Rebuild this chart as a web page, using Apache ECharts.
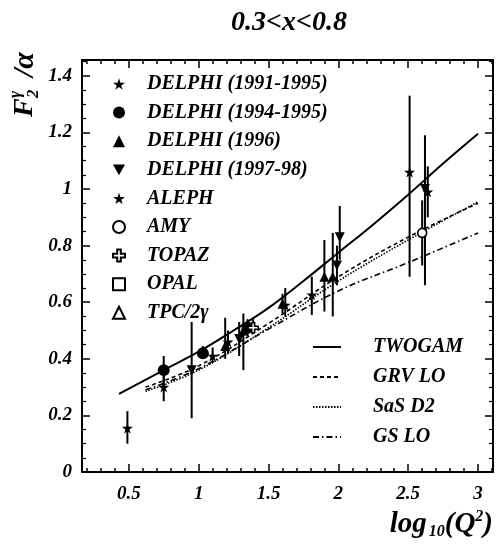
<!DOCTYPE html>
<html>
<head>
<meta charset="utf-8">
<script src="https://cdn.jsdelivr.net/npm/echarts@6/dist/echarts.min.js"></script>
<style>html,body{margin:0;padding:0;background:#fff}#c{width:497px;height:553px}</style>
</head>
<body>
<div id="c"></div>
<script>
// ---- data: [log10(Q2), F2/alpha, lower, upper] ----
const delphi9195 = [[0.49,0.155,0.10,0.215],[0.75,0.30,0.25,0.36],[1.10,0.41,0.385,0.44],[1.21,0.46,0.42,0.50],[1.62,0.59,0.55,0.65],[1.81,0.626,0.555,0.69],[2.51,1.06,0.69,1.33]];
const delphi9495 = [[0.75,0.36,0.30,0.41],[1.03,0.42,0.40,0.445],[1.35,0.51,0.48,0.54]];
const delphi96   = [[1.19,0.445,0.40,0.545],[1.32,0.50,0.36,0.56],[1.60,0.595,0.56,0.63],[1.90,0.69,0.567,0.82],[1.96,0.69,0.55,0.845]];
const delphi9798 = [[0.95,0.36,0.19,0.53],[1.29,0.47,0.41,0.53],[1.99,0.73,0.66,0.80],[2.01,0.83,0.75,0.94],[2.62,1.0,0.66,1.19]];
const aleph = [[2.64,0.99,0.90,1.08]];
const amy = [[2.60,0.845,0.73,0.96]];
const topaz = [[1.39,0.51,0.49,0.54]];
const opal = [];
const tpc = [];

const twogam = [[0.43,0.276],[0.75,0.36],[1.0,0.425],[1.25,0.50],[1.5,0.58],[1.75,0.675],[2.0,0.775],[2.25,0.875],[2.5,0.98],[2.75,1.09],[3.0,1.195]];
const grvlo  = [[0.62,0.30],[1.0,0.375],[1.5,0.525],[2.0,0.69],[2.5,0.83],[3.0,0.95]];
const sasd2  = [[0.62,0.285],[1.0,0.36],[1.5,0.51],[2.0,0.675],[2.5,0.82],[3.0,0.955]];
const gslo   = [[0.62,0.29],[1.0,0.365],[1.5,0.505],[2.0,0.64],[2.5,0.74],[3.0,0.845]];

const xMajor = [0.5,1,1.5,2,2.5,3];
const xMinor = [0.2,0.3,0.4,0.6,0.7,0.8,0.9,1.1,1.2,1.3,1.4,1.6,1.7,1.8,1.9,2.1,2.2,2.3,2.4,2.6,2.7,2.8,2.9,3.1];

const FONT = '"Liberation Serif", "DejaVu Serif", serif';
const STAR = 'path://M50,0 L61,35 L98,35 L68,57 L79,91 L50,70 L21,91 L32,57 L2,35 L39,35 Z';
const TRI_DOWN = 'path://M0,0 L100,0 L50,90 Z';
const PLUS = 'path://M35,0 H65 V35 H100 V65 H65 V100 H35 V65 H0 V35 H35 Z';

const chart = echarts.init(document.getElementById('c'), null, {renderer:'canvas'});
const XMIN = 0.165, XMAX = 3.107, YMAX = 1.456;

function xAx(pos, ticks, len, label, line) {
  return {type:'value', min:XMIN, max:XMAX, position:pos,
    axisLine:{show:line, onZero:false, lineStyle:{color:'#000', width:2}},
    axisTick:{show:true, inside:true, length:len, customValues:ticks, lineStyle:{color:'#000', width:1.5}},
    axisLabel:{show:label, customValues:xMajor, color:'#000', fontFamily:FONT, fontStyle:'italic', fontWeight:'bold', fontSize:19, margin:13},
    splitLine:{show:false}};
}
function yAx(pos, label) {
  return {type:'value', min:0, max:YMAX, interval:0.2, position:pos,
    axisLine:{show:true, onZero:false, lineStyle:{color:'#000', width:2}},
    axisTick:{show:true, inside:true, length:8, lineStyle:{color:'#000', width:1.5}},
    minorTick:{show:true, splitNumber:4, length:4, lineStyle:{color:'#000', width:1.2}},
    axisLabel:{show:label, showMaxLabel:false, color:'#000', fontFamily:FONT, fontStyle:'italic', fontWeight:'bold', fontSize:19, margin:10},
    splitLine:{show:false}, minorSplitLine:{show:false}};
}

function scatter(name, data, symbol, size, filled) {
  return {type:'scatter', name, data:data.map(d=>[d[0],d[1]]), symbol, symbolSize:size,
    itemStyle:{color: filled ? '#000' : '#fff', borderColor:'#000', borderWidth: filled ? 0 : 1.6, opacity:1},
    z:5, emphasis:{disabled:true}};
}
function errs(data) {
  return {type:'custom', data:data.map(d=>[d[0],d[2],d[3]]), encode:{x:0,y:[1,2]}, z:4, silent:true,
    renderItem:(params, api) => {
      const a = api.coord([api.value(0), api.value(1)]);
      const b = api.coord([api.value(0), api.value(2)]);
      return {type:'line', shape:{x1:a[0],y1:a[1],x2:b[0],y2:b[1]}, style:{stroke:'#000', lineWidth:2}};
    }};
}
function curve(name, data, type, width) {
  return {type:'line', name, data, smooth:0.4, symbol:'none', z:3,
    lineStyle:{color:'#000', width, type}, itemStyle:{color:'#000'}, emphasis:{disabled:true}};
}

const expts = [
  ['DELPHI (1991-1995)', delphi9195, STAR, 11, true],
  ['DELPHI (1994-1995)', delphi9495, 'circle', 12, true],
  ['DELPHI (1996)', delphi96, 'triangle', 10, true],
  ['DELPHI (1997-98)', delphi9798, TRI_DOWN, 10, true],
  ['ALEPH', aleph, STAR, 11, true],
  ['AMY', amy, 'circle', 9, false],
  ['TOPAZ', topaz, PLUS, 10, false],
  ['OPAL', opal, 'rect', 9, false],
  ['TPC/2\u03b3', tpc, 'triangle', 9, false]
];
const series = [];
expts.forEach(e => { series.push(errs(e[1])); });
expts.forEach(e => { series.push(scatter(e[0], e[1], e[2], e[3], e[4])); });
series.push(curve('TWOGAM', twogam, 'solid', 2));
series.push(curve('GRV LO', grvlo, [4,3], 1.6));
series.push(curve('SaS D2', sasd2, [1.5,1.5], 1.6));
series.push(curve('GS LO', gslo, [6,3,1.5,3], 1.6));

const legendText = {color:'#000', fontFamily:FONT, fontStyle:'italic', fontWeight:'bold', fontSize:20};

chart.setOption({
  animation:false,
  backgroundColor:'#fff',
  title:{text:'0.3<x<0.8', left:284, top:4, textAlign:'center',
    textStyle:{fontFamily:FONT, fontStyle:'italic', fontWeight:'bold', fontSize:28, color:'#000'}},
  grid:{left:82, right:4, top:60, bottom:81, containLabel:false},
  xAxis:[xAx('bottom', xMajor, 8, true, true), xAx('bottom', xMinor, 4, false, false),
         xAx('top', xMajor, 8, false, true), xAx('top', xMinor, 4, false, false)],
  yAxis:[yAx('left', true), yAx('right', false)],
  legend:[
    {data:expts.map(e=>e[0]), orient:'vertical', left:107, top:69, itemWidth:12, itemHeight:12, itemGap:8.6,
     selectedMode:false, textStyle:Object.assign({padding:[0,0,0,17]}, legendText)},
    {data:['TWOGAM','GRV LO','SaS D2','GS LO'], orient:'vertical', left:307, top:332, itemWidth:28, itemHeight:14, itemGap:10,
     selectedMode:false, itemStyle:{opacity:0}, textStyle:Object.assign({padding:[0,0,0,27]}, legendText)}
  ],
  graphic:[
    {type:'group', x:25, y:117, rotation:Math.PI/2, children:[
      {type:'text', x:0, y:0, style:{text:'F', font:'italic bold 28px '+FONT, verticalAlign:'middle', fill:'#000'}},
      {type:'text', x:19, y:-9, style:{text:'\u03b3', font:'italic bold 17px '+FONT, verticalAlign:'middle', fill:'#000'}},
      {type:'text', x:19, y:9, style:{text:'2', font:'italic bold 17px '+FONT, verticalAlign:'middle', fill:'#000'}},
      {type:'text', x:40, y:0, style:{text:'/\u03b1', font:'italic bold 30px '+FONT, verticalAlign:'middle', fill:'#000'}}
    ]},
    {type:'text', right:4, top:509, style:{text:'{n|log}{s|10}{n|(Q}{p|2}{n|)}', fill:'#000',
      rich:{n:{font:'italic bold 29px '+FONT, fill:'#000'},
            s:{font:'italic bold 16px '+FONT, fill:'#000', padding:[15,0,0,2]},
            p:{font:'italic bold 16px '+FONT, fill:'#000', padding:[0,0,15,0]}}}}
  ],
  series
});
</script>
</body>
</html>
